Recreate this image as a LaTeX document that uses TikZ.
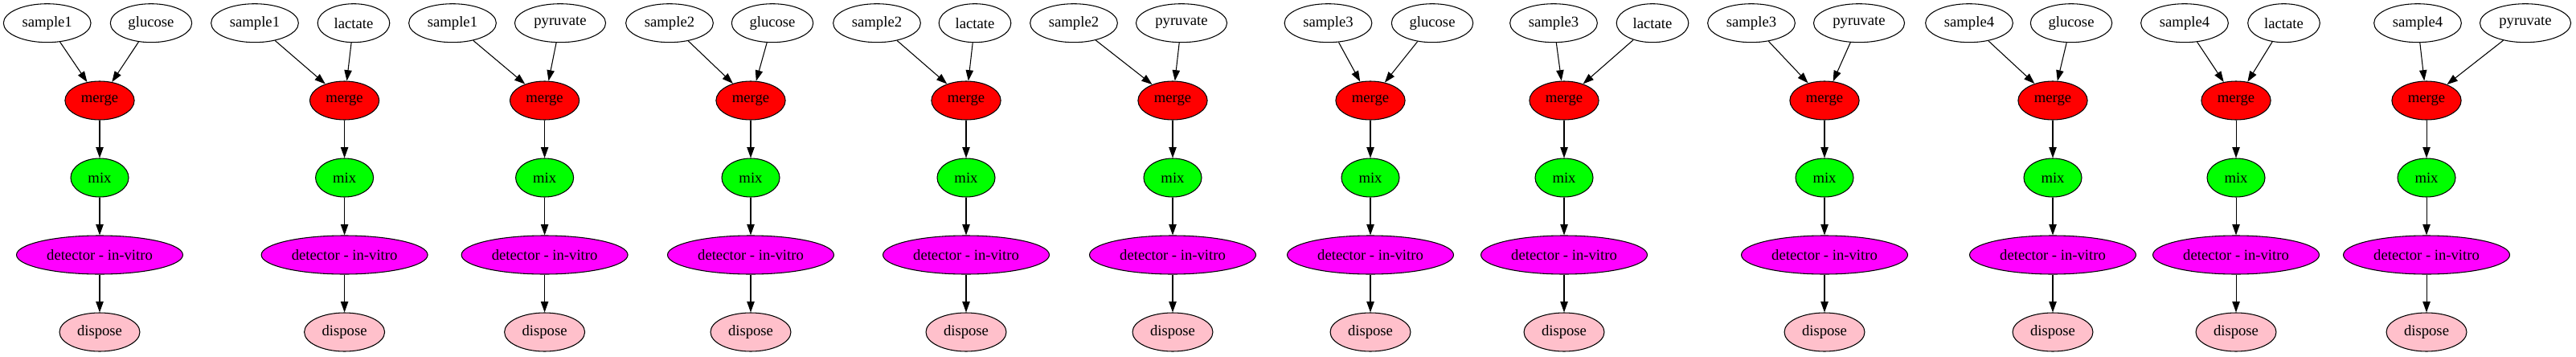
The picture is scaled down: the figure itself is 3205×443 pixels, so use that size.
\documentclass[tikz,border=0pt]{standalone}
\usepackage{fontspec}
\setmainfont{Liberation Serif}
\usepackage{tikz}
\usetikzlibrary{shapes.geometric,positioning,arrows.meta}
\definecolor{mergered}{RGB}{255,0,0}
\definecolor{mixgreen}{RGB}{0,255,0}
\definecolor{detmagenta}{RGB}{255,0,255}
\definecolor{pinkfill}{RGB}{255,192,203}

\tikzset{
  op/.style={ellipse,draw,minimum width=54pt,minimum height=36pt,
    inner xsep=5.5pt,inner ysep=0pt,font=\fontsize{14pt}{16pt}\selectfont},
  src/.style={op},
  mergeop/.style={op,fill=mergered},
  mixop/.style={op,fill=mixgreen},
  detop/.style={op,fill=detmagenta},
  dispop/.style={op,fill=pinkfill}
}

\begin{document}
\begin{tikzpicture}[x=0.75pt,y=-0.75pt,line width=0.8pt,node distance=72pt,on grid,
    >={Triangle[length=10pt,width=7pt]}]
    \useasboundingbox (0,0) rectangle (3205,443);
    \foreach \sx/\sn/\cx/\cn/\mx [count=\i] in {
      58.7/sample1/188/glucose/124,
      317/sample1/440/lactate/428.6,
      563/sample1/697/pyruvate/677.6,
      833/sample2/961/glucose/934,
      1091/sample2/1213/lactate/1202,
      1336/sample2/1470/pyruvate/1459,
      1652.5/sample3/1782/glucose/1705,
      1933/sample3/2056/lactate/1946,
      2179/sample3/2313/pyruvate/2270,
      2450/sample4/2577/glucose/2554,
      2718/sample4/2841.5/lactate/2782,
      3008/sample4/3142/pyruvate/3019}{
    \node[src] (s\i) at (\sx,28.7) {\sn};
    \node[src] (c\i) at (\cx,28.7) {\cn};
    \node[mergeop] (m\i) at (\mx,125) {merge};
    \node[mixop] (x\i) [below = of m\i] {mix};
    \node[detop] (d\i) [below = of x\i] {detector - in-vitro};
    \node[dispop] (p\i) [below = of d\i] {dispose};
    \path[->]
    (s\i) edge [] (m\i)
    (c\i) edge [] (m\i)
    (m\i) edge [] (x\i)
    (x\i) edge [] (d\i)
    (d\i) edge [] (p\i)
    ;
    }
  \end{tikzpicture}
\end{document}
